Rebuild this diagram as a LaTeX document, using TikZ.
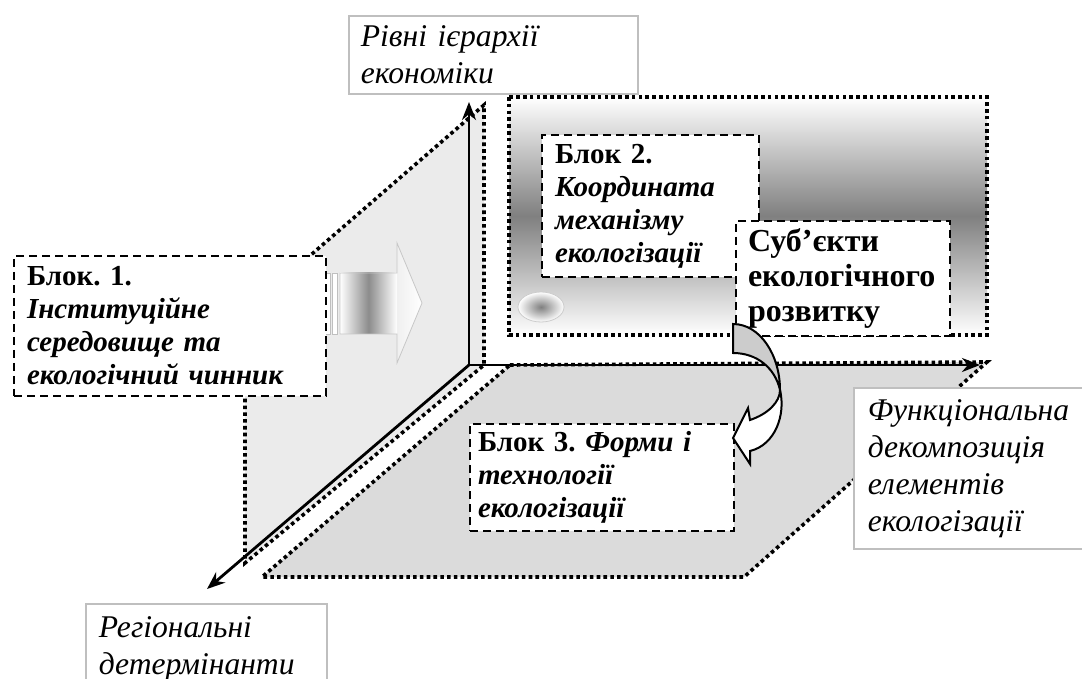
\documentclass[tikz,border=0pt]{standalone}
\usepackage{fontspec}
\setmainfont{Liberation Serif}
\usetikzlibrary{arrows.meta}
\frenchspacing

\begin{document}
\begin{tikzpicture}[x=0.5pt,y=-0.5pt,
  krapky/.style={line width=1.8pt,dash pattern=on 1.8pt off 1.6pt},
  vis/.style={line width=1.4pt,-{Stealth[length=9pt,width=7pt]}},
  blok/.style={draw,fill=white,line width=1pt,dash pattern=on 4pt off 2.5pt,anchor=north west,
    align=left,inner ysep=0pt,font=\fontsize{14.5}{16.5}\selectfont\bfseries},
  mitka/.style={draw=black!25,fill=white,line width=0.8pt,anchor=north west,
    align=left,inner ysep=0pt,font=\fontsize{15.8}{18.5}\selectfont\itshape}]
\clip (0,0) rectangle (1082,679);
% stinka i pidloha
\filldraw[fill=black!8,krapky](245,312)--(484,105)--(484,365)--(245,563)--cycle;
\filldraw[fill=black!14,krapky](510,365)--(987,362)--(744,577)--(262,577)--cycle;
% blok 2, fon
\shade[top color=white,bottom color=white,middle color=black!50](509,97)rectangle(987,335);
\draw[krapky](509,97)rectangle(987,335);
% osi
\coordinate (O) at (469,365);
\coordinate (vy) at (469,102);
\coordinate (vx) at (980,365);
\coordinate (vz) at (207,589);
\draw[vis](O)--(vy);
\draw[vis](O)--(vx);
\draw[vis](O)--(vz);
% velyka strilka
\shade[left color=white,right color=white,middle color=black!45](340,273)rectangle(397,334);
\shade[left color=black!6,right color=white](397,243)--(422,303)--(397,363)--cycle;
\draw[black!22](340,273)--(397,273)--(397,243)--(422,303)--(397,363)--(397,334)--(340,334)--cycle;
\draw[black!25,fill=white](325,273)rectangle(330,334)(332,273)rectangle(337,334);
% pidpysy osej
\node[mitka,text width=132.5pt,inner xsep=6pt,minimum height=39pt] (riv) at (348,15)
  {Рівні ієрархії\\економіки};
\node[mitka,text width=140pt,inner xsep=7pt,minimum height=80.5pt] (fun) at (853,387)
  {Функціональна\\декомпозиція\\елементів\\екологізації};
\node[mitka,text width=107.5pt,inner xsep=6.5pt,minimum height=45pt] (reg) at (85,603)
  {Регіональні\\детермінанти};
% bloky
\node[blok,text width=143pt,inner xsep=6.5pt,minimum height=70pt] (b1) at (13,255)
  {Блок. 1.\\\textit{Інституційне}\\\textit{середовище та}\\\textit{екологічний чинник}};
\node[blok,text width=95.5pt,inner xsep=6.5pt,minimum height=71pt] (b2) at (541,134)
  {Блок 2.\\\textit{Координата}\\\textit{механізму}\\\textit{екологізації}};
\node[blok,text width=95pt,inner xsep=6pt,minimum height=57.5pt,
  font=\fontsize{16}{17.5}\selectfont\bfseries] (sub) at (735,220)
  {Суб’єкти\\екологічного\\розвитку};
\node[blok,text width=124pt,inner xsep=4pt,minimum height=53.5pt] (b3) at (469,423)
  {Блок 3. \textit{Форми і}\\\textit{технології}\\\textit{екологізації}};
\shadedraw[draw=black!20,inner color=black!50,outer color=white](541,307)ellipse[x radius=11.5pt,y radius=7.5pt];
% vyhnuta strilka
\filldraw[fill=black!20,line width=1pt](733,324)..controls(760,324)and(780,355)..(780,390)
  ..controls(775,368)and(757,353)..(733,353)--cycle;
\filldraw[fill=white,line width=1pt](780,390)..controls(786,415)and(775,445)..(750,451)
  --(750,464)--(733,438)--(748,408)--(750,420)..controls(768,414)and(780,402)..(780,390)--cycle;
\end{tikzpicture}
\end{document}
